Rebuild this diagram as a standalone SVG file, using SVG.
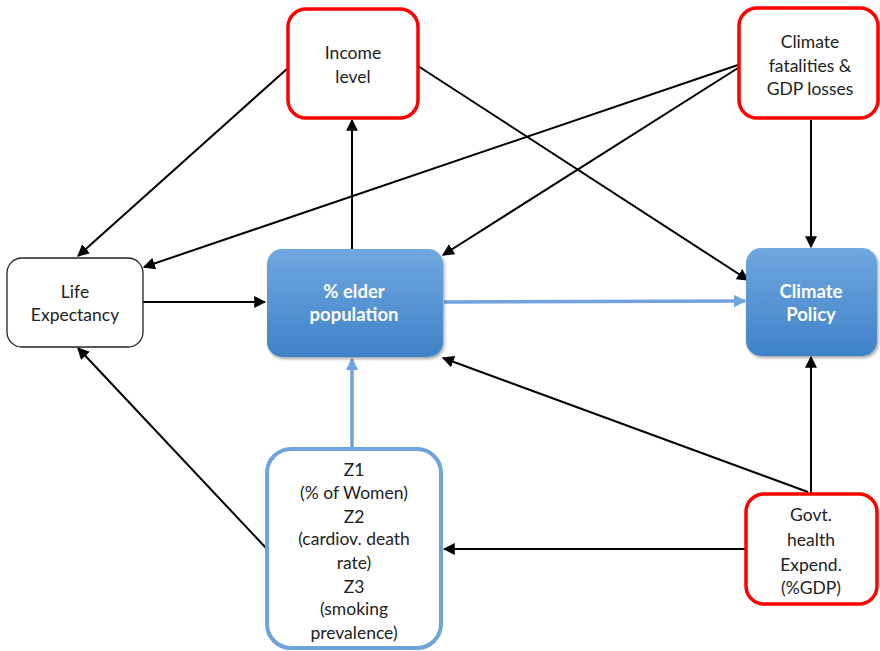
<svg xmlns="http://www.w3.org/2000/svg" width="880" height="651" viewBox="0 0 880 651">
<defs>
<style>
.t{font-family:Lato,"Liberation Sans",sans-serif;font-size:17.5px;fill:#222;text-anchor:middle}
.tw{font-family:Lato,"Liberation Sans",sans-serif;font-size:18.5px;font-weight:bold;fill:#fff;text-anchor:middle}
.red{fill:#fff;stroke:#ff0000;stroke-width:3.5}
.blk{fill:#fff;stroke:#222;stroke-width:1.3}
.blu{fill:url(#g);filter:url(#sh)}
.zb{fill:#fff;stroke:#6ea3dc;stroke-width:4}
.c{stroke:#000;stroke-width:2;fill:none;marker-end:url(#a)}
.cb{stroke:#6ea3dc;stroke-width:3.5;fill:none;marker-end:url(#ab)}
</style>
<linearGradient id="g" x1="0" y1="0" x2="0" y2="1">
<stop offset="0" stop-color="#70a7df"/>
<stop offset="1" stop-color="#3f82c8"/>
</linearGradient>
<filter id="sh" x="-10%" y="-10%" width="125%" height="125%">
<feDropShadow dx="1.5" dy="2" stdDeviation="1.5" flood-color="#000" flood-opacity="0.35"/>
</filter>
<marker id="a" viewBox="0 0 10 10" refX="9" refY="5" markerWidth="6" markerHeight="6" markerUnits="strokeWidth" orient="auto">
<path d="M0,0 L10,5 L0,10 z" fill="#000"/>
</marker>
<marker id="ab" viewBox="0 0 10 10" refX="9" refY="5" markerWidth="3.6" markerHeight="3.6" markerUnits="strokeWidth" orient="auto">
<path d="M0,0 L10,5 L0,10 z" fill="#6ea3dc"/>
</marker>
</defs>
<g id="connectors">
<line class="c" x1="288" y1="68" x2="78" y2="256"/>
<line class="c" x1="418" y1="66" x2="748" y2="280"/>
<line class="c" x1="738" y1="65" x2="144" y2="267"/>
<line class="c" x1="738" y1="68" x2="443" y2="255"/>
<line class="c" x1="811" y1="120" x2="811" y2="247"/>
<line class="c" x1="352" y1="249" x2="352" y2="120"/>
<line class="c" x1="143" y1="302" x2="265" y2="302"/>
<line class="cb" x1="444" y1="302" x2="745" y2="301"/>
<line class="cb" x1="352" y1="447" x2="352" y2="359"/>
<line class="c" x1="266" y1="548" x2="78" y2="348"/>
<line class="c" x1="811" y1="493" x2="811" y2="357"/>
<line class="c" x1="808" y1="492" x2="443" y2="358"/>
<line class="c" x1="745" y1="549" x2="444" y2="549"/>
</g>
<g id="income">
<rect class="red" x="288" y="9" width="130" height="109" rx="18"/>
<text class="t" x="353" y="59">Income</text>
<text class="t" x="353" y="83">level</text>
</g>
<g id="climate-fatalities">
<rect class="red" x="739" y="8" width="139" height="110" rx="18"/>
<text class="t" x="810" y="48">Climate</text>
<text class="t" x="810" y="72">fatalities &amp;</text>
<text class="t" x="810" y="95">GDP losses</text>
</g>
<g id="life-expectancy">
<rect class="blk" x="7" y="258" width="136" height="89" rx="15"/>
<text class="t" x="75" y="298">Life</text>
<text class="t" x="75" y="321">Expectancy</text>
</g>
<g id="elder">
<rect class="blu" x="267" y="249" width="176" height="108" rx="15"/>
<text class="tw" x="354" y="298">% elder</text>
<text class="tw" x="354" y="321">population</text>
</g>
<g id="climate-policy">
<rect class="blu" x="746" y="248" width="131" height="108" rx="15"/>
<text class="tw" x="811" y="298">Climate</text>
<text class="tw" x="811" y="321">Policy</text>
</g>
<g id="z">
<rect class="zb" x="267" y="449" width="174" height="199" rx="24"/>
<text class="t" x="354" y="476">Z1</text>
<text class="t" x="354" y="499">(% of Women)</text>
<text class="t" x="354" y="523">Z2</text>
<text class="t" x="354" y="545">(cardiov. death</text>
<text class="t" x="354" y="569">rate)</text>
<text class="t" x="354" y="593">Z3</text>
<text class="t" x="354" y="615">(smoking</text>
<text class="t" x="354" y="639">prevalence)</text>
</g>
<g id="govt">
<rect class="red" x="746" y="494" width="131" height="110" rx="18"/>
<text class="t" x="811" y="521">Govt.</text>
<text class="t" x="811" y="546">health</text>
<text class="t" x="811" y="571">Expend.</text>
<text class="t" x="811" y="594">(%GDP)</text>
</g>
</svg>
